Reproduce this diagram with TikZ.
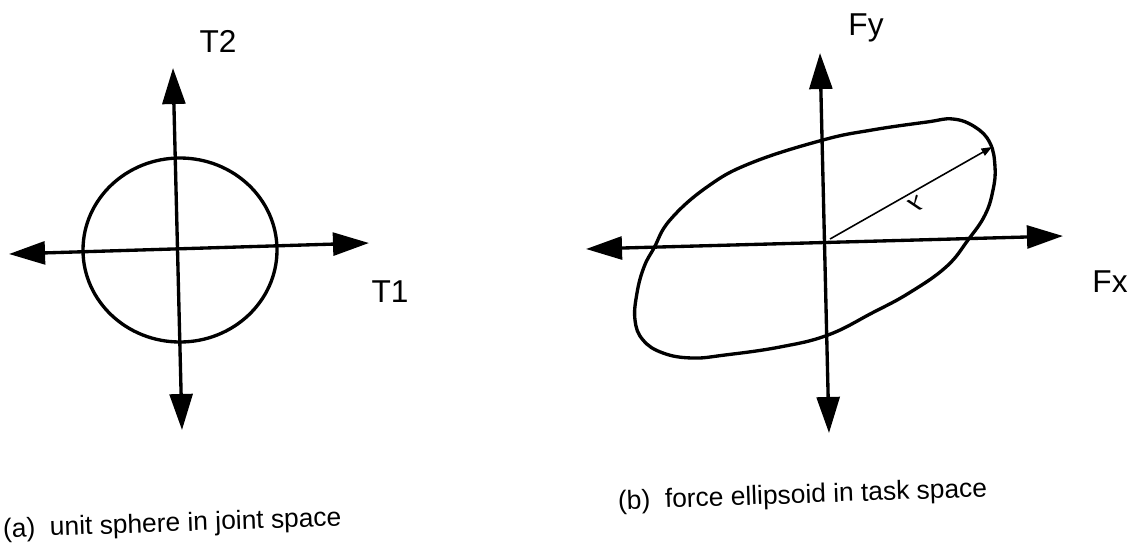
\documentclass[tikz,border=0pt]{standalone}
\usepackage{fontspec}
\setmainfont{Liberation Sans}
\usetikzlibrary{arrows.meta,calc}

\begin{document}
\begin{tikzpicture}[x=0.02cm,y=-0.02cm,
		axis/.style={line width=1.9pt,{Triangle[length=20.5pt,width=13pt]}-{Triangle[length=20.5pt,width=13pt]}},
		curve/.style={line width=1.9pt},
		arrow/.style={-{Triangle[length=6pt,width=4.5pt]},line width=0.9pt},
		lab/.style={font=\fontsize{18}{20}\selectfont},
		captext/.style={font=\fontsize{15}{17}\selectfont,anchor=west,rotate=2}
	]
		\useasboundingbox (0,0) rectangle (1136,552);
		% (a) 关节空间
		\coordinate (t1l) at (9,254);
		\coordinate (t1r) at (369,243);
		\coordinate (t2u) at (173,68);
		\coordinate (t2d) at (182,430);
		\draw[curve] (180,250) ellipse [x radius=97, y radius=92];
		\draw[axis] (t1l) -- (t1r);
		\draw[axis] (t2u) -- (t2d);
		\node[lab] (T2) at (218,41) {T2};
		\node[lab] (T1) at (390,292) {T1};
		\node[captext] (capa) at (-3,531) {(a)\ \ unit sphere in joint space};
	
		% (b) 任务空间
		\coordinate (fxl) at (586,249);
		\coordinate (fxr) at (1063,236);
		\coordinate (fyu) at (820,53);
		\coordinate (fyd) at (829,433);
		\coordinate (o2) at (830,239);
		\coordinate (lam) at (992,147);
		\draw[curve] plot[smooth cycle, tension=0.7] coordinates {
			(953,119) (975,127) (990,143) (995,167) (993,190) (985,215)
			(968,240) (946,267) (909,293) (872,313) (828,335) (780,347)
			(725,355) (692,358) (663,353) (643,340) (635,320) (637,293)
			(644,267) (654,248) (670,220) (707,187) (751,163) (823,140)
			(872,130) (927,122)};
		\draw[axis] (fxl) -- (fxr);
		\draw[axis] (fyu) -- (fyd);
		\draw[arrow] (o2) -- (lam);
		\node[rotate=212,font=\large\boldmath] (lamlab) at (916,204) {$\lambda$};
		\node[lab] (Fy) at (866,28) {Fy};
		\node[lab] (Fx) at (1110,282) {Fx};
		\node[captext] (capb) at (612,503) {(b)\ \ force ellipsoid in task space};
	\end{tikzpicture}
\end{document}
